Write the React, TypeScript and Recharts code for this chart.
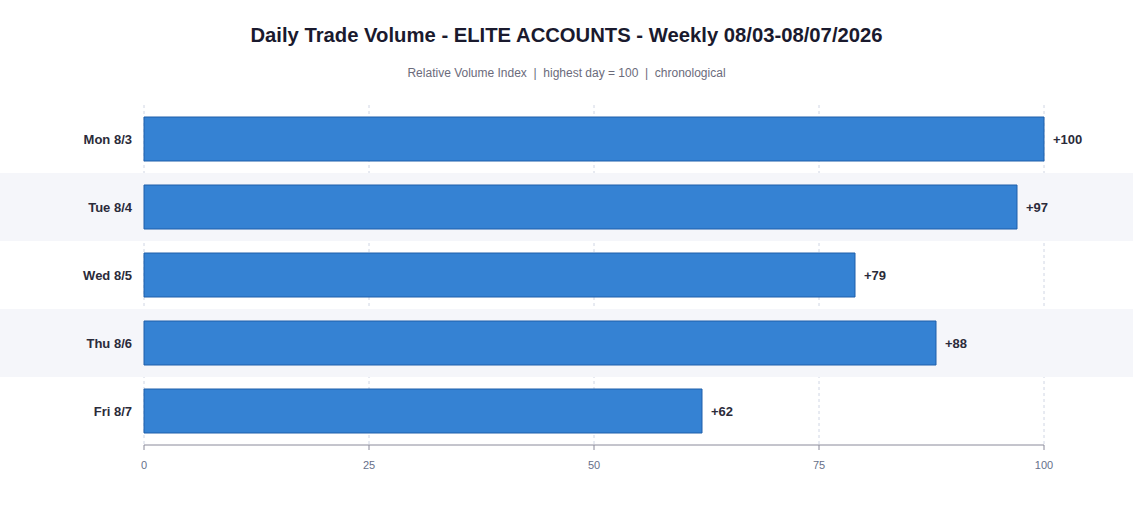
import { BarChart, Bar, XAxis, YAxis, CartesianGrid, ReferenceArea, LabelList } from 'recharts';

const days = ['Mon 8/3', 'Tue 8/4', 'Wed 8/5', 'Thu 8/6', 'Fri 8/7'];
const volumeIndex = [100, 97, 79, 88, 62];
const xTicks = [0, 25, 50, 75, 100];
const stripedDays = ['Tue 8/4', 'Thu 8/6'];

const data = days.map((day, i) => ({ day, value: volumeIndex[i] }));

const W = 1133;
const H = 509;
const font = '"Liberation Sans", Arial, Helvetica, sans-serif';

// band stripe that runs the full width of the page, not just the plot
const StripeShape = (props: any) => (
  <rect x={0} y={props.y} width={W} height={props.height} fill="#f5f6fa" />
);

const App = () => {
  return (
    <div style={{ position: 'absolute', left: 0, top: 0, width: W, height: H, background: '#fff', fontFamily: font }}>
      <div style={{ position: 'absolute', top: 24, width: W, textAlign: 'center', fontSize: 20.25, fontWeight: 'bold', color: '#1a1a2e' }}>
        Daily Trade Volume - ELITE ACCOUNTS - Weekly 08/03-08/07/2026
      </div>
      <div style={{ position: 'absolute', top: 66, width: W, textAlign: 'center', fontSize: 12, color: '#6b6b7b', whiteSpace: 'pre' }}>
        {'Relative Volume Index  |  highest day = 100  |  chronological'}
      </div>
      <BarChart
        width={W}
        height={H}
        data={data}
        layout="vertical"
        margin={{ top: 105, right: 89, left: 0, bottom: 34 }}
        barCategoryGap={12}
      >
        {stripedDays.map((d) => (
          <ReferenceArea key={d} y1={d} y2={d} ifOverflow="visible" shape={<StripeShape />} />
        ))}
        <CartesianGrid horizontal={false} stroke="#d0d6e4" strokeDasharray="3 3" />
        <XAxis
          type="number"
          domain={[0, 100]}
          ticks={xTicks}
          height={30}
          stroke="#8a8a9a"
          tickSize={5}
          tickMargin={11}
          tick={{ fontSize: 11, fill: '#66708a', fontFamily: font }}
        />
        <YAxis
          type="category"
          dataKey="day"
          width={144}
          axisLine={false}
          tickLine={false}
          tickMargin={6}
          tick={{ fontSize: 13, fontWeight: 'bold', fill: '#2b2b3a', fontFamily: font }}
        />
        <Bar dataKey="value" barSize={44} fill="#3582d3" stroke="#1e5faa" strokeWidth={1} isAnimationActive={false}>
          <LabelList
            dataKey="value"
            position="right"
            offset={9}
            formatter={(v: any) => `+${v}`}
            style={{ fontSize: 13, fontWeight: 'bold', fill: '#2b2b3a', fontFamily: font }}
          />
        </Bar>
      </BarChart>
    </div>
  );
};

export default App;
